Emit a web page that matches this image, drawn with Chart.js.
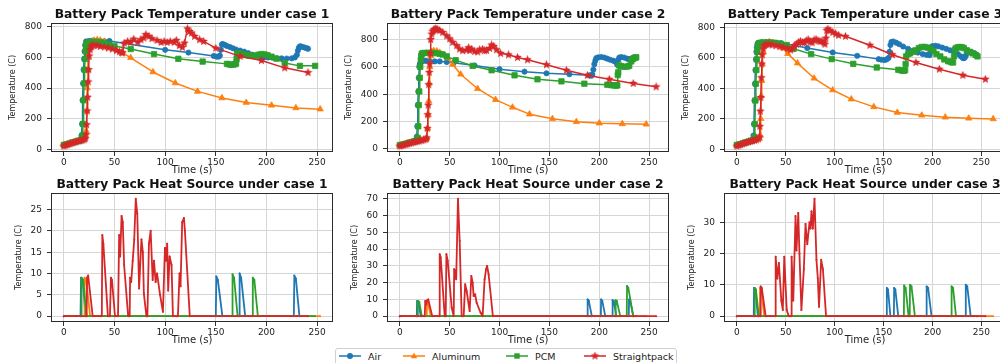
<!DOCTYPE html>
<html><head><meta charset="utf-8">
<script src="https://cdn.jsdelivr.net/npm/chart.js@4.4.1/dist/chart.umd.min.js"></script>
<style>
html,body{margin:0;padding:0;background:#fff;overflow:hidden;width:1000px;height:363px;position:relative;}
canvas.plot{position:absolute;}
#legend{position:absolute;left:335px;top:348px;width:342px;height:22px;border:1px solid #d0d0d0;border-radius:3px;background:#fff;box-sizing:border-box;font-family:"DejaVu Sans",sans-serif;font-size:9.5px;color:#222;}
.item{position:absolute;top:1px;height:12px;display:flex;align-items:center;}
.item canvas{margin-right:7px;}
</style></head><body>
<div id="legend"></div>
<script>
// ---------- data ----------
const seriesNames = ['Air','Aluminum','PCM','Straightpack'];
const xTicks = [0,50,100,150,200,250];
const tempTicks = [0,200,400,600,800];
const heatTicks1 = [0,5,10,15,20,25];
const heatTicks2 = [0,10,20,30,40,50,60,70];
const heatTicks3 = [0,10,20,30];
const titles = ['Battery Pack Temperature under case 1','Battery Pack Temperature under case 2','Battery Pack Temperature under case 3',
                'Battery Pack Heat Source under case 1','Battery Pack Heat Source under case 2','Battery Pack Heat Source under case 3'];

// case 1 temperature
const c1AirT = [0,3,6,9,12,15,16.5,17.5,18,18.5,19,19.5,20,20.5,21,22,25,28,32,36,40,45,100,123,148,151,153,154,155,156,157,159,161,164,167,170,174,178,182,186,190,194,198,202,206,210,215,220,225,228,230,231,232,233,234,236,238,240,241];
const c1AirV = [28,32,38,44,50,55,65,90,165,320,430,520,590,640,680,705,708,710,708,706,706,708,650,632,610,605,606,612,650,685,688,682,675,668,660,652,645,638,628,618,611,605,602,600,598,595,594,593,594,600,617,645,665,672,672,668,664,660,657];
const c1AluT = [0,3,6,9,12,15,18,20,21,22,22.5,23,23.5,24,25,26,28,30,33,36,40,50,58,66,88,110,132,156,180,205,229,253];
const c1AluV = [28,32,38,44,50,55,60,65,75,120,250,400,520,600,660,690,705,712,715,712,705,665,630,598,505,433,378,335,305,287,270,262];
const c1PcmT = [0,3,6,9,12,15,17,18,18.5,19,19.5,20,20.5,21,21.5,22,22.5,23.5,25,28,32,36,40,45,50,66,89,113,137,161,163,165,167,169,170,170.5,171,172,174,176,178,180,183,186,189,192,195,198,201,205,210,218,233,248];
const c1PcmV = [28,32,38,44,50,55,60,70,90,165,320,430,520,590,640,670,685,695,700,702,702,700,695,685,675,655,622,591,573,558,555,552,553,556,560,590,620,628,625,622,618,615,612,610,612,618,622,620,615,605,592,563,545,545];
const c1StrT = [0,2,4,6,8,10,12,14,16,18,20,21,22,22.5,23,23.5,24,24.5,25,26,27,28,30,33,36,40,44,48,52,55,57,58,59.6,63,66,69,73,76,79,81,84,87,92,96,99,102,105,109,111,114,117,119,122,124,126,129,134,138,150,174,195,218,241];
const c1StrV = [20,25,30,35,40,45,48,52,55,58,62,70,95,160,250,340,440,520,610,650,670,680,680,678,672,668,662,655,645,638,632,630,694,705,699,720,699,716,727,750,738,723,712,699,705,699,705,699,712,677,666,694,787,770,760,738,716,705,661,607,580,532,501];

// case 2 temperature
const c2AirT = [0,3,6,9,12,15,16,17,17.5,18,18.5,19,19.5,20,20.5,21,22,24,26,30,35,40,47,54,75,100,125,147,170,190,192,193,194,195,196,197,199,202,205,208,211,214,216,218,219,220,222,225,228,230,232,234,235];
const c2AirV = [28,32,38,44,50,55,65,90,165,320,420,520,600,615,625,632,640,645,645,642,640,640,635,630,610,583,565,553,546,538,535,545,580,620,645,665,670,672,668,660,652,645,638,615,650,668,672,668,660,655,660,665,668];
const c2AluT = [0,3,6,9,12,15,18,21,24,26,27,28,28.5,29,29.5,30,31,32,34,37,40,44,48,53,61,78,96,113,130,153,177,200,223,247];
const c2AluV = [25,30,36,42,48,53,58,62,66,70,80,150,250,350,480,600,680,710,718,715,705,690,665,617,546,440,360,304,254,220,198,188,183,180];
const c2PcmT = [0,3,6,9,12,15,17,18,18.5,19,19.5,20,20.5,21,21.5,22,23,25,28,32,36,40,43,47,56,73,92,115,138,162,185,208,212,215,217,218,218.5,219,220,222,225,228,230,232,233,234,235,236,237];
const c2PcmV = [28,32,38,44,50,55,62,80,165,320,420,520,600,650,680,695,700,702,703,702,700,695,690,677,649,607,575,538,509,494,477,469,466,464,463,465,540,560,610,605,600,602,608,640,655,660,665,668,670];
const c2StrT = [0,2,4,6,8,10,12,14,16,18,20,22,24,26,27,27.5,28,28.5,29,29.5,30,30.5,31,32,33,34,35,36,37,38,40,43,47,50,53,57,60,63,67,69,70,72,75,78,80,83,85,87,90,92,94,97,101,109,118,128,147,167,188,210,234,257];
const c2StrV = [20,24,28,32,36,40,44,48,52,55,58,62,66,70,80,150,250,320,470,560,620,700,800,840,860,870,875,878,875,872,865,852,827,805,780,755,730,718,723,740,720,730,712,710,725,730,718,720,735,760,750,725,699,688,669,652,615,575,538,509,479,454];

// case 3 temperature
const c3AirT = [0,3,6,9,12,15,16,17,17.5,18,18.5,19,19.5,20,20.5,21,22,25,30,35,40,45,72,98,123,145,148,151,153,155,156,157,158,160,163,166,170,175,180,185,190,194,197,198,199,200,203,206,210,214,218,222,226,229,231,232,233,234,236,238,240,243,245];
const c3AirV = [28,32,38,44,50,55,62,90,165,320,430,520,590,640,670,690,700,703,703,702,700,698,665,636,614,592,588,586,590,600,640,685,705,708,700,690,675,660,648,635,625,620,618,640,665,678,680,676,668,660,650,640,625,610,600,598,602,615,635,640,638,630,620];
const c3AluT = [0,3,6,9,12,15,18,21,23,24,24.5,25,25.5,26,27,28,30,33,37,42,47,52,62,79,98,117,140,164,189,213,237,262];
const c3AluV = [25,30,36,42,48,53,58,64,70,90,200,350,450,560,640,680,700,705,700,690,665,628,566,466,389,329,278,241,223,210,203,199];
const c3PcmT = [0,3,6,9,12,15,17,18,18.5,19,19.5,20,20.5,21,21.5,22,23,25,28,32,36,40,45,51,58,76,97,119,143,165,168,170,171,172,172.5,173,175,177,180,183,186,189,192,195,198,201,204,208,212,216,219,221,222,223,224,226,228,230,232,235,238,241,244,246];
const c3PcmV = [28,32,38,44,50,55,62,80,165,320,430,520,590,640,670,690,695,700,702,702,700,698,692,685,660,625,592,561,537,522,518,516,517,520,560,610,625,630,640,650,665,672,672,668,660,645,625,610,590,578,572,570,610,655,665,670,672,670,665,650,640,630,620,610];
const c3StrT = [0,2,4,6,8,10,12,14,16,18,20,22,23,23.5,24,24.5,25,25.5,26,27,28,30,33,36,40,44,48,52,55,57,59,61,63,65,67,69,71,73,75,77,79,81,83,85,87,89,90,91,92,93,95,98,101,104,111,136,159,183,207,231,254];
const c3StrV = [20,25,30,35,40,45,48,52,55,58,62,68,80,150,250,340,470,560,620,660,680,690,688,685,680,675,668,660,652,665,680,690,700,710,702,700,712,720,705,700,718,722,712,708,710,700,690,730,780,790,780,768,758,749,742,683,621,570,526,486,460];

// case 1 heat source
const h1AirT = [0,16.5,17,18.5,21.5,150,150.5,152,156.5,173,173.5,175,179,227,227.5,229,232.5,241];
const h1AirV = [0,0,9,8.6,0,0,9.3,8.5,0,0,10,9,0,0,9.5,8.8,0,0];
const h1AluT = [0,20,20.5,22,26,253];
const h1AluV = [0,0,9,8.5,0,0];
const h1PcmT = [0,17,17.5,19,22.5,166,166.5,168,171.5,186,186.5,188,191.5,248];
const h1PcmV = [0,0,9,8.5,0,0,9.8,9,0,0,9,8.5,0,0];
const h1StrT = [0,22.5,23,24,28.5,37.5,38,39,43.5,45.5,46.5,47.5,50.5,53.5,54.6,55.6,57,58.2,59.5,63.5,65,65.4,66.5,68,69.5,71,72.5,74.3,76.6,78,79,81.5,82.5,84,85.7,87.7,89,90.6,92,95,97.8,99.8,101,102,103,104.4,106.3,107.7,111,112.6,114.2,115.2,116.8,118.5,119.5,124.3,241];
const h1StrV = [0,0,9,9.5,0,0,19,17,0,0,9,8.5,0,0,19,14,23.5,22,12,0,0,9,8,13,18,27.5,24,6.5,18,15,5.3,0,0,17,20,8.5,13,8,10,5,1,16,13,17,6,14,12,0,0,0,10,7,22,23,20,0,0];

// case 2 heat source
const h2AirT = [0,17,17.3,18.5,21,188,188.3,189.5,192.5,201.5,201.8,203,206,213,213.3,214.5,217,229.5,229.8,231,234,235];
const h2AirV = [0,0,9,8.5,0,0,10,9,0,0,10,9,0,0,9.5,9,0,0,10,9,0,0];
const h2AluT = [0,27,27.3,28.5,31,247];
const h2AluV = [0,0,8,7.5,0,0];
const h2PcmT = [0,17.8,18.1,19.5,22,216,216.4,217.5,221,227.5,227.8,229,234,237];
const h2PcmV = [0,0,9,8.5,0,0,9.5,9,0,0,18,17,0,0];
const h2StrT = [0,25,25.5,26.5,27.5,28.5,32.5,39.5,40,41,45,46,46.7,48,52,54,54.5,55.5,56.5,58.3,60,62,64,65.5,67,70,71.7,73,74,75.5,77,81,83,85,86.5,87.5,89,93.3,257];
const h2StrV = [0,0,9,7,9.5,10,0,0,37,35,0,0,37,33,5,0,28,27,22,70,45,0,0,19,15,3,24,20,12,13,8,2,0,22,28,30,25,0,0];

// case 3 heat source
const h3AirT = [0,17.3,17.6,19,21.5,153,153.3,154.5,157,160.5,160.8,162,165,193.7,194,195.5,199,233.7,234,235.5,239,245];
const h3AirV = [0,0,9,8.5,0,0,9,8.5,0,0,9,8.5,0,0,9.5,9,0,0,10,9.5,0,0];
const h3AluT = [0,23.5,23.8,25,28,262];
const h3AluV = [0,0,9,8.5,0,0];
const h3PcmT = [0,18,18.3,19.5,22.5,170.7,171,172.5,175.5,176.7,177,178.5,182,219.2,219.5,221,224,246];
const h3PcmV = [0,0,9,8.5,0,0,9.8,9,0,0,10,9.5,0,0,9.5,9,0,0];
const h3StrT = [0,24,24.4,25.5,29.5,39.3,39.7,41.4,43,45.5,47,48.5,51,53,55.5,56,57.7,60,61,62.8,64,66,68.5,70.2,72,74.3,75.3,76.3,77.7,79.4,81.4,82.8,84,86.2,88,91.2,254];
const h3StrV = [0,0,9.5,9,0,0,19,12,17,5,2,19,2,0,0,19,5,32,21,33,20,2,15,29.5,23,30,28,33.5,28,37.5,18,12,3,18,15,0,0];

// ---------- drawing ----------
const COLORS = ['#1f77b4','#ff7f0e','#2ca02c','#d62728'];
const FONT = '"DejaVu Sans", sans-serif';

function starCanvas(color, size){
  const c = document.createElement('canvas'); c.width = size; c.height = size;
  const g = c.getContext('2d'); const cx = size/2, cy = size/2, R = size/2, r = R*0.45;
  g.beginPath();
  for (let i = 0; i < 10; i++){ const a = -Math.PI/2 + i*Math.PI/5; const rr = i%2 ? r : R; g.lineTo(cx + rr*Math.cos(a), cy + rr*Math.sin(a)); }
  g.closePath(); g.fillStyle = color; g.fill(); return c;
}
const STAR = starCanvas(COLORS[3], 9);
const STYLES = ['circle','triangle','rect',STAR];
const RADII = [2.6,3.6,3.8,3.2];

function pts(t, v){ const n = Math.min(t.length, v.length); const o = []; for (let i = 0; i < n; i++) o.push({x:t[i], y:v[i]}); return o; }

const framePlugin = {
  id: 'frame',
  afterDraw(chart, args, opts){
    const {ctx, chartArea:a} = chart;
    ctx.save();
    ctx.strokeStyle = '#2b2b2b'; ctx.lineWidth = 1;
    ctx.strokeRect(Math.round(a.left)+0.5, Math.round(a.top)+0.5, Math.round(a.right-a.left)-1, Math.round(a.bottom-a.top)-1);
    ctx.font = 'bold 12.3px ' + FONT; ctx.fillStyle = '#111'; ctx.textAlign = 'center'; ctx.textBaseline = 'middle';
    ctx.fillText(opts.text, (a.left + a.right)/2, a.top - 8);
    ctx.restore();
  }
};

const PLOT_W = 282, PLOT_H = 129, Y_W = 50, PAD_TOP = 22, PAD_RIGHT = 10, X_H = 28;

function makeChart(left, top, xMax, yMin, yMax, yTicks, title, sets, heat, yTitlePad){
  const cv = document.createElement('canvas');
  cv.className = 'plot';
  cv.width = Y_W + PLOT_W + PAD_RIGHT; cv.height = PAD_TOP + PLOT_H + X_H;
  cv.style.left = (left - Y_W) + 'px'; cv.style.top = (top - PAD_TOP) + 'px';
  document.body.appendChild(cv);
  const datasets = sets.map((s, i) => ({
    label: seriesNames[i], data: pts(s[0], s[1]),
    borderColor: COLORS[i], backgroundColor: COLORS[i],
    borderWidth: heat ? 1.8 : 1.5, borderJoinStyle: 'round', tension: 0, fill: false,
    pointStyle: heat ? 'circle' : STYLES[i], pointRadius: heat ? 1 : RADII[i],
    pointBorderWidth: heat ? 0 : 0.8, pointBorderColor: COLORS[i], pointBackgroundColor: COLORS[i],
    order: 3 - i
  }));
  new Chart(cv, {
    type: 'line',
    data: { datasets },
    options: {
      responsive: false, animation: false, devicePixelRatio: 1, events: [],
      layout: { padding: { top: PAD_TOP, right: PAD_RIGHT, left: 0, bottom: 0 } },
      plugins: { legend: { display: false }, tooltip: { enabled: false }, title: { display: false }, frame: { text: title } },
      scales: {
        x: {
          type: 'linear', min: -0.05 * xMax, max: 1.05 * xMax,
          afterBuildTicks: s => { s.ticks = xTicks.map(v => ({ value: v })); },
          afterFit: s => { s.height = X_H; },
          grid: { color: '#d6d6d6', lineWidth: 1, tickLength: 4, tickColor: '#333', drawTicks: true },
          border: { display: false },
          ticks: { font: { family: FONT, size: 9 }, color: '#222', padding: 1, maxRotation: 0, autoSkip: false },
          title: { display: true, text: 'Time (s)', font: { family: FONT, size: 10 }, color: '#222', padding: { top: 0, bottom: 4 } }
        },
        y: {
          type: 'linear', min: yMin, max: yMax,
          afterBuildTicks: s => { s.ticks = yTicks.map(v => ({ value: v })); },
          afterFit: s => { s.width = Y_W; },
          grid: { color: '#d6d6d6', lineWidth: 1, tickLength: 4, tickColor: '#333', drawTicks: true },
          border: { display: false },
          ticks: { font: { family: FONT, size: 9 }, color: '#222', padding: 5, autoSkip: false },
          title: { display: true, text: 'Temperature (C)', font: { family: FONT, size: 8 }, color: '#222', padding: { top: yTitlePad, bottom: 0 } }
        }
      }
    },
    plugins: [framePlugin]
  });
}

const COL = [51, 387, 724], ROW = [23, 193];
function span(lo, hi){ const m = 0.05 * (hi - lo); return [lo - m, hi + m]; }
const y1 = span(20, 787), y2 = span(20, 878), y3 = span(20, 791);
makeChart(COL[0], ROW[0], 253, y1[0], y1[1], tempTicks, titles[0], [[c1AirT,c1AirV],[c1AluT,c1AluV],[c1PcmT,c1PcmV],[c1StrT,c1StrV]], false, 7.5);
makeChart(COL[1], ROW[0], 257, y2[0], y2[1], tempTicks, titles[1], [[c2AirT,c2AirV],[c2AluT,c2AluV],[c2PcmT,c2PcmV],[c2StrT,c2StrV]], false, 7.5);
makeChart(COL[2], ROW[0], 262, y3[0], y3[1], tempTicks, titles[2], [[c3AirT,c3AirV],[c3AluT,c3AluV],[c3PcmT,c3PcmV],[c3StrT,c3StrV]], false, 7.5);
const hy1 = span(0, 27.5), hy2 = span(0, 70), hy3 = span(0, 37.5);
makeChart(COL[0], ROW[1], 253, hy1[0], hy1[1], heatTicks1, titles[3], [[h1AirT,h1AirV],[h1AluT,h1AluV],[h1PcmT,h1PcmV],[h1StrT,h1StrV]], true, 13.5);
makeChart(COL[1], ROW[1], 257, hy2[0], hy2[1], heatTicks2, titles[4], [[h2AirT,h2AirV],[h2AluT,h2AluV],[h2PcmT,h2PcmV],[h2StrT,h2StrV]], true, 13.5);
makeChart(COL[2], ROW[1], 262, hy3[0], hy3[1], heatTicks3, titles[5], [[h3AirT,h3AirV],[h3AluT,h3AluV],[h3PcmT,h3PcmV],[h3StrT,h3StrV]], true, 13.5);

// legend
const legend = document.getElementById('legend');
const LEG_X = [3, 67, 170, 248];
seriesNames.forEach((name, i) => {
  const d = document.createElement('div'); d.className = 'item'; d.style.left = LEG_X[i] + 'px';
  const c = document.createElement('canvas'); c.width = 22; c.height = 10;
  const g = c.getContext('2d');
  g.strokeStyle = COLORS[i]; g.lineWidth = 1.5; g.beginPath(); g.moveTo(0, 5); g.lineTo(22, 5); g.stroke();
  g.fillStyle = COLORS[i];
  if (i === 0){ g.beginPath(); g.arc(11, 5, 3, 0, 2*Math.PI); g.fill(); }
  else if (i === 1){ g.beginPath(); g.moveTo(11, 1.5); g.lineTo(14.2, 7.2); g.lineTo(7.8, 7.2); g.closePath(); g.fill(); }
  else if (i === 2){ g.fillRect(8.3, 2.3, 5.4, 5.4); }
  else { g.drawImage(STAR, 11 - STAR.width/2, 5 - STAR.height/2); }
  const s = document.createElement('span'); s.textContent = name;
  d.appendChild(c); d.appendChild(s); legend.appendChild(d);
});
</script>
</body></html>
